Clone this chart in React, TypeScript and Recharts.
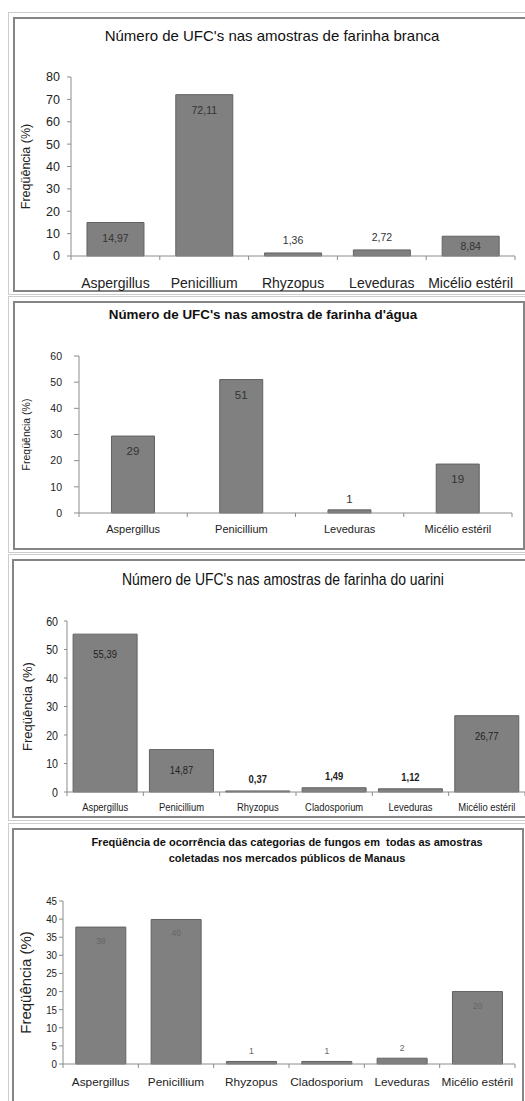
import React from "react";
import { BarChart, Bar, XAxis, YAxis, LabelList } from "recharts";

// farinha branca
const brancaCategories = ["Aspergillus", "Penicillium", "Rhyzopus", "Leveduras", "Micélio estéril"];
const brancaValues = [14.97, 72.11, 1.36, 2.72, 8.84];
const brancaTicks = [0, 10, 20, 30, 40, 50, 60, 70, 80];

// farinha d'água
const aguaCategories = ["Aspergillus", "Penicillium", "Leveduras", "Micélio estéril"];
const aguaValues = [29.4, 51, 1.2, 18.7];
const aguaTicks = [0, 10, 20, 30, 40, 50, 60];

// farinha do uarini
const uariniCategories = ["Aspergillus", "Penicillium", "Rhyzopus", "Cladosporium", "Leveduras", "Micélio estéril"];
const uariniValues = [55.39, 14.87, 0.37, 1.49, 1.12, 26.77];
const uariniTicks = [0, 10, 20, 30, 40, 50, 60];

// todas as amostras
const totalCategories = ["Aspergillus", "Penicillium", "Rhyzopus", "Cladosporium", "Leveduras", "Micélio estéril"];
const totalValues = [37.8, 39.9, 0.7, 0.7, 1.6, 20];
const totalTicks = [0, 5, 10, 15, 20, 25, 30, 35, 40, 45];

const SANS = "'Liberation Sans', Arial, sans-serif";
const AXIS = "#8c8c8c";

// no narrow font installed: squeeze horizontally instead
function SText({ x, y, sx = 1, dy, anchor, children, ...rest }: any) {
  return (
    <text transform={`translate(${x} ${y}) scale(${sx} 1)`} x={0} y={0} dy={dy} textAnchor={anchor} fontFamily={SANS} {...rest}>
      {children}
    </text>
  );
}

function CatTick(props: any) {
  const { x, y, payload, index, count, band, margin, fontSize, sx, fill } = props;
  const axisY = y - margin;
  const half = payload && payload.offset > 0 ? payload.offset : band / 2;
  return (
    <g>
      <line x1={x - half} x2={x - half} y1={axisY} y2={axisY + 4} stroke={AXIS} />
      {index === count - 1 && <line x1={x + half} x2={x + half} y1={axisY} y2={axisY + 4} stroke={AXIS} />}
      <SText x={x} y={y} sx={sx} dy="0.71em" anchor="middle" fontSize={fontSize} fill={fill}>
        {payload.value}
      </SText>
    </g>
  );
}

function ValTick(props: any) {
  const { x, y, payload, fontSize, sx } = props;
  return (
    <SText x={x} y={y} sx={sx} dy="0.35em" anchor="end" fontSize={fontSize} fill="#222">
      {payload.value}
    </SText>
  );
}

function Panel(p: any) {
  const data = p.categories.map((name: string, i: number) => ({ name, value: p.values[i] }));
  const W = 525;
  const band = (p.plotRight - p.plotLeft) / p.categories.length;
  const fmt = (v: number) => (p.decimals ? v.toFixed(p.decimals).replace(".", ",") : String(Math.round(v)));

  const valueLabel = (lp: any) => {
    const x = Number(lp.x), y = Number(lp.y), w = Number(lp.width), h = Math.abs(Number(lp.height));
    const inside = h >= 15;
    const cy = inside ? y + Math.min(p.inset, h / 2) : y - p.above;
    return (
      <SText
        x={x + w / 2}
        y={cy}
        sx={p.valueScale}
        dy="0.35em"
        anchor="middle"
        fontSize={p.valueSize}
        fontWeight={!inside && p.boldAbove ? "bold" : "normal"}
        fill={p.valueColor}
      >
        {fmt(Number(lp.value))}
      </SText>
    );
  };

  const yLabel = (lp: any) => {
    const vb = lp && lp.viewBox;
    const cy = vb && vb.height ? vb.y + vb.height / 2 : (p.plotTop + p.plotBottom) / 2 - p.top;
    return (
      <text
        x={p.yLabelX}
        y={cy}
        dy="0.35em"
        textAnchor="middle"
        transform={`rotate(-90, ${p.yLabelX}, ${cy})`}
        fontSize={p.yLabelSize}
        fontFamily={SANS}
        fill="#222"
      >
        Freqüência (%)
      </text>
    );
  };

  return (
    <div style={{ position: "absolute", left: 0, top: p.top }}>
      <BarChart
        width={W}
        height={p.height}
        data={data}
        margin={{ top: p.plotTop - p.top, right: W - p.plotRight, bottom: 0, left: 0 }}
        barCategoryGap={p.gap}
      >
        <YAxis
          type="number"
          width={p.plotLeft}
          domain={[0, p.ticks[p.ticks.length - 1]]}
          ticks={p.ticks}
          interval={0}
          tickSize={p.yTickSize}
          tickMargin={p.yTickMargin}
          stroke={AXIS}
          tick={<ValTick fontSize={p.yTickFontSize} sx={p.yTickScale} />}
          label={{ content: yLabel }}
        />
        <XAxis
          dataKey="name"
          height={p.top + p.height - p.plotBottom}
          tickSize={0}
          tickMargin={p.xMargin}
          interval={0}
          stroke={AXIS}
          tick={
            <CatTick
              count={p.categories.length}
              band={band}
              margin={p.xMargin}
              fontSize={p.catSize}
              sx={p.catScale}
              fill="#222"
            />
          }
        />
        <Bar dataKey="value" fill="#808080" stroke="#626262" strokeWidth={1} isAnimationActive={false}>
          <LabelList dataKey="value" content={valueLabel} />
        </Bar>
      </BarChart>
    </div>
  );
}

function Frame({ top, height, left, width }: any) {
  return (
    <>
      <div
        style={{
          position: "absolute",
          left: 8,
          top: top - 5,
          width: 540,
          height: height + 8,
          border: "1px solid #cdcdcd",
          boxSizing: "border-box",
        }}
      />
      <div
        style={{
          position: "absolute",
          left,
          top,
          width,
          height,
          border: "2px solid #858585",
          boxSizing: "border-box",
          background: "#fff",
        }}
      />
    </>
  );
}

function Title({ cx, cy, lines, size, bold, lh, sx = 1 }: any) {
  return (
    <div
      style={{
        position: "absolute",
        left: cx - 260,
        width: 520,
        top: cy - (lh * lines.length) / 2,
        textAlign: "center",
        fontSize: size,
        lineHeight: `${lh}px`,
        fontFamily: SANS,
        fontWeight: bold ? "bold" : "normal",
        color: "#111",
        whiteSpace: "pre",
        transform: `scaleX(${sx})`,
        transformOrigin: "50% 50%",
      }}
    >
      {lines.join("\n")}
    </div>
  );
}

export default function App() {
  return (
    <div style={{ position: "absolute", left: 0, top: 0, width: 525, height: 1101, overflow: "hidden", background: "#fff" }}>
      <Frame top={17} height={275} left={13} width={525} />
      <Frame top={301} height={249} left={13} width={512} />
      <Frame top={559} height={259} left={12} width={525} />
      <Frame top={828} height={290} left={12} width={512} />

      <Panel
        top={17} height={275} plotTop={77} plotBottom={256} plotLeft={71} plotRight={515}
        categories={brancaCategories} values={brancaValues} ticks={brancaTicks}
        gap="18%" decimals={2} inset={16} above={13}
        valueSize={10.5} valueScale={1} valueColor="#333"
        yTickSize={4} yTickMargin={7} yTickFontSize={12.5} yTickScale={1}
        yLabelX={26} yLabelSize={12.5} xMargin={22} catSize={14} catScale={1}
      />
      <Title cx={272} cy={36} lines={["Número de UFC's nas amostras de farinha branca"]} size={15} lh={18} />

      <Panel
        top={301} height={249} plotTop={356} plotBottom={513} plotLeft={79} plotRight={512}
        categories={aguaCategories} values={aguaValues} ticks={aguaTicks}
        gap="30%" decimals={0} inset={15} above={11}
        valueSize={11.5} valueScale={1} valueColor="#333"
        yTickSize={5} yTickMargin={12} yTickFontSize={10.5} yTickScale={1}
        yLabelX={26} yLabelSize={10.5} xMargin={12} catSize={11} catScale={1}
      />
      <Title cx={263} cy={315} lines={["Número de UFC's nas amostra de farinha d'água"]} size={13.4} bold lh={16} />

      <Panel
        top={559} height={259} plotTop={621} plotBottom={792} plotLeft={67} plotRight={525}
        categories={uariniCategories} values={uariniValues} ticks={uariniTicks}
        gap="8%" decimals={2} inset={20} above={12} boldAbove
        valueSize={11.5} valueScale={0.82} valueColor="#222"
        yTickSize={3} yTickMargin={6} yTickFontSize={13} yTickScale={0.82}
        yLabelX={27} yLabelSize={13} xMargin={11} catSize={11.5} catScale={0.82}
      />
      <Title cx={283} cy={580} lines={["Número de UFC's nas amostras de farinha do uarini"]} size={17} lh={20} sx={0.82} />

      <Panel
        top={828} height={273} plotTop={901} plotBottom={1064} plotLeft={63} plotRight={515}
        categories={totalCategories} values={totalValues} ticks={totalTicks}
        gap="17%" decimals={0} inset={14} above={10}
        valueSize={8.5} valueScale={1} valueColor="#666"
        yTickSize={4} yTickMargin={2} yTickFontSize={11.5} yTickScale={0.85}
        yLabelX={26} yLabelSize={15} xMargin={14} catSize={11.8} catScale={1}
      />
      <Title
        cx={287}
        cy={850}
        lines={["Freqüência de ocorrência das categorias de fungos em  todas as amostras", "coletadas nos mercados públicos de Manaus"]}
        size={11}
        bold
        lh={16}
      />
    </div>
  );
}
